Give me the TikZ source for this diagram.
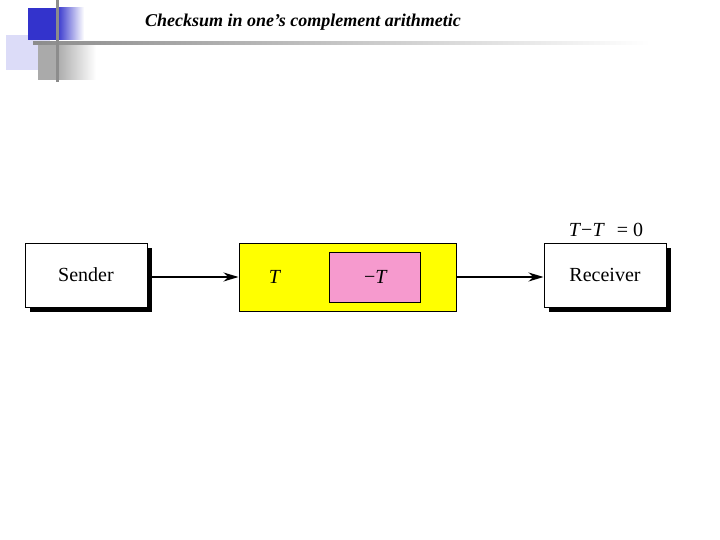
\documentclass[tikz,border=0pt]{standalone}
\usepackage{fontspec}
\setmainfont{Liberation Serif}
\usetikzlibrary{arrows.meta,shadows}
\definecolor{decoblue}{RGB}{51,51,204}
\definecolor{decolav}{RGB}{220,220,248}
\definecolor{decogray}{RGB}{170,170,170}
\definecolor{lineg}{RGB}{140,140,140}
\definecolor{boxyellow}{RGB}{255,255,0}
\definecolor{boxpink}{RGB}{246,154,206}
\tikzset{
  blk/.style={draw=black, line width=1pt, fill=white, minimum width=122pt, minimum height=64pt,
    drop shadow={shadow xshift=5pt, shadow yshift=-5pt, fill=black, opacity=1}, font=\fontsize{20}{24}\selectfont},
  arr/.style={-{Stealth[length=15pt,width=9pt]}, line width=1.6pt},
  lbl/.style={font=\fontsize{20}{24}\selectfont}
}
\begin{document}
\begin{tikzpicture}[x=1pt,y=-1pt]
\useasboundingbox (0,0) rectangle (720,540);
% decoration
\fill[decolav] (6,35) rectangle (50,70);
\shade[left color=decogray, right color=white] (57,45) rectangle (96,80);
\fill[decogray] (38,45) rectangle (57,80);
\fill[decolav] (6,45) rectangle (38,70);
\fill[decoblue] (28,8) rectangle (57,40);
\shade[left color=decoblue, right color=white] (57,8) rectangle (84,40);
\shade[left color=lineg, right color=white] (33,42) rectangle (650,45);
\fill[lineg] (56,0) rectangle (59,82);
\node[font=\fontsize{18}{21}\selectfont\bfseries\itshape] (title) at (303,22) {Checksum in one’s complement arithmetic};
% diagram
\node[blk] (sender) at (86,275) {Sender};
\node[draw=black, line width=1pt, fill=boxyellow, minimum width=217pt, minimum height=68pt] (yb) at (347.5,277) {};
\node[draw=black, line width=1pt, fill=boxpink, minimum width=91pt, minimum height=50pt] (pb) at (374.5,277) {};
\node[lbl] (t1) at (275,277) {\textit{T}};
\node[lbl] (t2) at (376,277) {−\textit{T}};
\node[blk] (recv) at (605,275) {Receiver};
\node[lbl, anchor=south] (eq) at (606,240) {\textit{T}−\textit{T}\hspace{0.6em}= 0};
\draw[arr] (sender.east |- 0,277) -- (yb.west);
\draw[arr] (yb.east) -- (recv.west |- 0,277);
\end{tikzpicture}
\end{document}
